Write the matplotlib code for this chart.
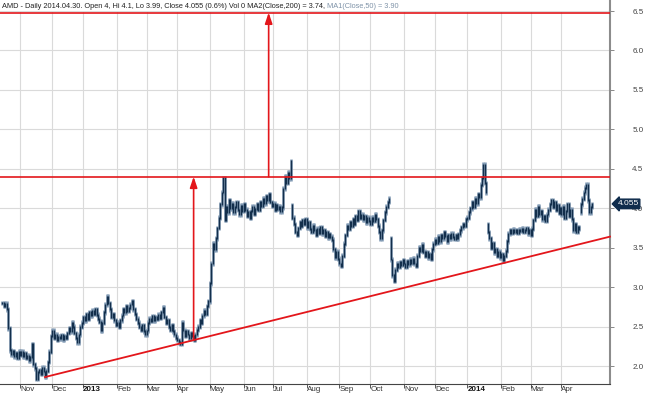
import numpy as np
import pandas as pd
import matplotlib
matplotlib.use("Agg")
import matplotlib.pyplot as plt
from matplotlib.lines import Line2D
from matplotlib.transforms import ScaledTranslation, blended_transform_factory

plt.rcParams['font.family'] = ['Liberation Sans', 'DejaVu Sans']

# AMD daily closes, one row per month (Oct 2012 .. Apr 2014)
closes = [
    2.80, 2.76, 2.79, 2.72, 2.48, 2.20, 2.15, 2.19, 2.12, 2.16, 2.10, 2.18,
    2.14, 2.18, 2.12, 2.16, 2.10, 2.13, 2.07, 2.11, 2.28, 2.02, 1.97, 1.84, 1.92, 1.95, 1.90, 1.98, 1.93, 1.87, 1.94, 2.05, 2.18, 2.38,
    2.45, 2.36, 2.40, 2.33, 2.37, 2.35, 2.39, 2.34, 2.38, 2.36, 2.42, 2.48, 2.44, 2.55, 2.50, 2.42, 2.36, 2.30, 2.40, 2.50, 2.55,
    2.62, 2.58, 2.66, 2.60, 2.68, 2.64, 2.70, 2.66, 2.72, 2.65, 2.60, 2.56, 2.45, 2.55, 2.68, 2.78, 2.88, 2.80, 2.72, 2.62, 2.66, 2.58, 2.52,
    2.55, 2.50, 2.58, 2.64, 2.72, 2.68, 2.76, 2.70, 2.74, 2.78, 2.82, 2.72, 2.66, 2.60, 2.55, 2.50, 2.46, 2.52, 2.44, 2.40,
    2.45, 2.55, 2.60, 2.57, 2.63, 2.58, 2.62, 2.60, 2.65, 2.61, 2.68, 2.74, 2.62, 2.55, 2.58, 2.50, 2.46, 2.52, 2.44, 2.40, 2.36,
    2.33, 2.30, 2.28, 2.55, 2.45, 2.38, 2.44, 2.40, 2.35, 2.42, 2.38, 2.33, 2.40, 2.46, 2.50, 2.58, 2.55, 2.64, 2.70, 2.66, 2.76, 2.82,
    3.05, 3.30, 3.55, 3.48, 3.62, 3.75, 3.88, 4.05, 4.20, 4.38, 3.85, 4.02, 3.95, 4.10, 4.00, 4.06, 3.95, 4.02, 4.08, 3.98, 3.92, 4.03, 3.97,
    4.05, 3.98, 3.90, 3.95, 3.88, 3.96, 4.02, 3.93, 3.99, 4.05, 3.98, 4.08, 4.03, 4.12, 4.06, 4.15, 4.10, 4.18, 4.08, 4.03,
    4.06, 3.98, 4.04, 3.99, 4.02, 3.96, 4.01, 4.25, 4.40, 4.32, 4.45, 4.38, 4.60, 3.88, 3.80, 3.70, 3.66, 3.75, 3.82, 3.78, 3.85, 3.80, 3.86,
    3.76, 3.82, 3.74, 3.70, 3.78, 3.72, 3.66, 3.74, 3.69, 3.76, 3.68, 3.72, 3.65, 3.70, 3.63, 3.67, 3.64, 3.60, 3.48, 3.38, 3.45, 3.36,
    3.30, 3.27, 3.40, 3.55, 3.66, 3.78, 3.74, 3.82, 3.78, 3.86, 3.80, 3.90, 3.85, 3.96, 3.88, 3.92, 3.86, 3.90, 3.82, 3.88, 3.84,
    3.80, 3.88, 3.84, 3.92, 3.86, 3.78, 3.70, 3.62, 3.72, 3.85, 3.95, 4.02, 4.08, 4.12, 3.35, 3.15, 3.08, 3.22, 3.30, 3.26, 3.32, 3.28, 3.34,
    3.30, 3.26, 3.33, 3.29, 3.35, 3.31, 3.36, 3.30, 3.27, 3.40, 3.50, 3.46, 3.54, 3.45, 3.40, 3.44, 3.38, 3.42, 3.36, 3.48, 3.55,
    3.60, 3.56, 3.64, 3.58, 3.66, 3.62, 3.70, 3.65, 3.58, 3.66, 3.62, 3.68, 3.64, 3.61, 3.66, 3.62, 3.67, 3.72, 3.76, 3.80, 3.78, 3.86,
    3.88, 3.95, 4.00, 4.08, 4.02, 4.12, 4.06, 4.18, 4.14, 4.30, 4.38, 4.55, 4.32, 4.20, 3.70, 3.62, 3.50, 3.56, 3.44, 3.48, 3.40, 3.45, 3.38,
    3.42, 3.34, 3.40, 3.46, 3.58, 3.68, 3.72, 3.69, 3.73, 3.70, 3.72, 3.69, 3.73, 3.71, 3.74, 3.70, 3.72, 3.75, 3.68, 3.72,
    3.66, 3.74, 3.85, 3.98, 3.90, 4.02, 3.92, 3.96, 3.86, 3.90, 3.84, 3.92, 3.98, 4.05, 4.10, 4.02, 4.08, 3.98, 4.04, 3.94, 4.00,
    3.92, 4.02, 3.88, 3.96, 4.05, 3.90, 3.98, 3.86, 3.72, 3.80, 3.70, 3.76, 3.74, 4.05, 4.12, 4.20, 4.26, 4.30, 4.10, 3.95, 4.02, 4.055,
]
# opens on the earnings gap days
gap_opens = {"2013-07-18": 4.04, "2013-10-21": 3.62, "2014-01-21": 3.80, "2014-04-18": 3.95}

resistance = 4.40
target = 6.48
trend_start = ("2012-11-26", 1.86)
trend_end_value = 3.64
arrow1 = ("2013-04-16", 2.33)
arrow2 = "2013-06-26"
last_close = "4.055"

title_main = ("AMD - Daily 2014.04.30. Open 4, Hi 4.1, Lo 3.99, Close 4.055 (0.6%) "
              "Vol 0 MA2(Close,200) = 3.74, ")
title_ma = "MA1(Close,50) = 3.90"

dates = pd.bdate_range("2012-10-16", periods=len(closes))
x = np.arange(len(closes))
c = np.array(closes)
o = np.r_[c[0], c[:-1]]
for d, v in gap_opens.items():
    o[dates.get_loc(pd.Timestamp(d))] = v
lo = np.minimum(o, c)
hi = np.maximum(o, c)

red = "#e3161b"
navy = "#132f4c"

fig = plt.figure(figsize=(6.45, 3.94), dpi=100)
ax = fig.add_axes([0, 10 / 394, 610 / 645, 373 / 394])
x_left, x_right = -1.6, 413.0
ax.set_xlim(x_left, x_right)
ax.set_ylim(1.772, 6.50)

ax.vlines(x, lo - 0.03, hi + 0.03, color="#7f98b2", lw=1.8, zorder=2)
ax.vlines(x, lo - 0.012, hi + 0.012, color=navy, lw=1.0, zorder=3)

# month ticks
month_pos = [i for i in range(1, len(dates)) if dates[i].month != dates[i - 1].month]
month_lbl = [str(dates[i].year) if dates[i].month == 1 else dates[i].strftime("%b") for i in month_pos]
ax.set_xticks(month_pos)
ax.set_xticklabels(month_lbl, ha="left", fontsize=5.8, color="#333333")
for t, l in zip(ax.get_xticklabels(), month_lbl):
    t.set_transform(t.get_transform() + ScaledTranslation(3.2 / 100, 0, fig.dpi_scale_trans))
    if l.isdigit():
        t.set_fontweight("bold")
        t.set_color("#111111")
ax.tick_params(axis="x", length=3, width=0.7, pad=-1.8, color="#555555")

ax.yaxis.tick_right()
ax.set_yticks(np.arange(2.0, 6.51, 0.5))
ax.set_yticklabels([f"{v:.1f}" for v in np.arange(2.0, 6.51, 0.5)], fontsize=5.8, color="#444444")
ax.tick_params(axis="y", length=3, width=0.7, pad=13, color="#888888")

ax.grid(True, color="#dadada", lw=0.8, zorder=0)
ax.set_axisbelow(True)
for s in ["left", "top"]:
    ax.spines[s].set_visible(False)
ax.spines["right"].set_color("#8c8c8c")
ax.spines["right"].set_linewidth(1.5)
ax.spines["bottom"].set_color("#444444")
ax.spines["bottom"].set_linewidth(0.8)
fig.add_artist(Line2D([610 / 645, 610 / 645], [383 / 394, 1.0], color="#8c8c8c", lw=1.5))

# red annotations
ax.axhline(resistance, color=red, lw=1.2, zorder=4)
ax.axhline(target, color=red, lw=1.2, zorder=4)
ts = dates.get_loc(pd.Timestamp(trend_start[0]))
ax.plot([ts, x_right], [trend_start[1], trend_end_value], color=red, lw=1.3, zorder=4, clip_on=False)
a1 = dates.get_loc(pd.Timestamp(arrow1[0]))
a2 = dates.get_loc(pd.Timestamp(arrow2))
arrow_kw = dict(arrowstyle="-|>,head_length=0.65,head_width=0.22", color=red, lw=1.2,
                shrinkA=0, shrinkB=0)
ax.annotate("", xy=(a1, resistance), xytext=(a1, arrow1[1]), arrowprops=arrow_kw, zorder=5)
ax.annotate("", xy=(a2, target), xytext=(a2, resistance), arrowprops=arrow_kw, zorder=5)

# last price marker
trans = blended_transform_factory(ax.transAxes, ax.transData)
ax.text(1.012, float(last_close), last_close, transform=trans, ha="left", va="center",
        fontsize=6, color="white", clip_on=False, zorder=6,
        bbox=dict(boxstyle="larrow,pad=0.15", fc="#0f2c4c", ec="#0f2c4c"))

# title
t1 = fig.text(2 / 645, 1 - 6 / 394, title_main, fontsize=5.3, color="#222222", va="center")
fig.canvas.draw()
bb = t1.get_window_extent()
fig.text(bb.x1 / fig.bbox.width, 1 - 6 / 394, title_ma, fontsize=5.3, color="#7f93a8", va="center")

fig.savefig("out.png", dpi=100)
